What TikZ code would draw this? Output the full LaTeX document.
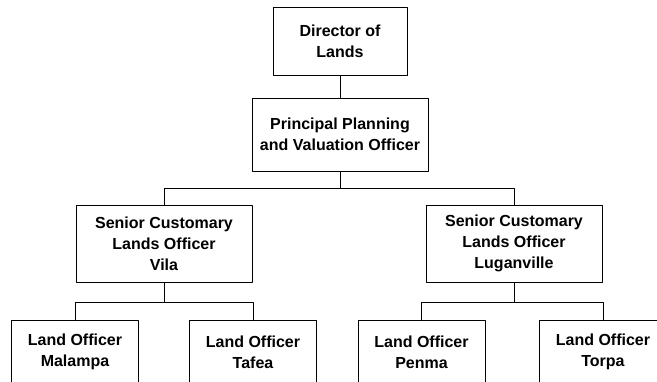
\documentclass[tikz,border=0pt]{standalone}
\usepackage{fontspec}
\setmainfont{Liberation Sans}
\usepackage{tikz}
\tikzset{
  every picture/.style={line join=round, line cap=round},
  officebox/.style={draw, line width=0.8pt, align=center, inner sep=0pt,
    font=\fontsize{16}{21}\selectfont\bfseries},
  topbox/.style={officebox, minimum width=134, minimum height=68},
  midbox/.style={officebox, minimum width=176, minimum height=75},
  landbox/.style={officebox, minimum width=127, minimum height=64},
}

\begin{document}
\begin{tikzpicture}[x=1pt,y=-1pt,line width=0.8pt]
\clip (0,0) rectangle (657,381);
\fill[white] (0,0) rectangle (657,381);
\node[topbox] (dir) at (340,41) {Director of\\Lands};
\node[midbox, minimum height=73] (ppvo) at (340,134.5) {Principal Planning\\and Valuation Officer};
\node[midbox, minimum height=77] (scloVila) at (164,243.5) {Senior Customary\\Lands Officer\\Vila};
\node[midbox, minimum height=77] (scloLug) at (514,243.5) {Senior Customary\\Lands Officer\\Luganville};
\node[landbox] (loMal) at (75,352) {Land Officer\\Malampa};
\node[landbox] (loTaf) at (253,352) {Land Officer\\Tafea};
\node[landbox] (loPen) at (421.5,352) {Land Officer\\Penma};
\node[landbox] (loTor) at (603,352) {Land Officer\\Torpa};
\draw(dir)--(ppvo);
\draw(ppvo.south)--++(0,17)-|(scloVila.north)
(ppvo.south)--++(0,17)-|(scloLug.north);
\draw(scloVila.south)--++(0,20)-|(loMal.north)
(scloVila.south)--++(0,20)-|(loTaf.north);
\draw(scloLug.south)--++(0,20)-|(loPen.north)
(scloLug.south)--++(0,20)-|(loTor.north);
\end{tikzpicture}
\end{document}
